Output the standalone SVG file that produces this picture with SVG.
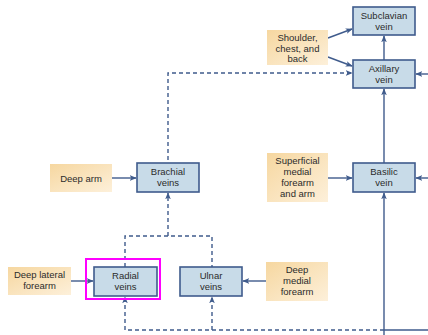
<svg xmlns="http://www.w3.org/2000/svg" width="428" height="335" viewBox="0 0 428 335">
<style>
.v{fill:#c8dbe8;stroke:#3f5b8c;stroke-width:1.6}
.s{fill:url(#og)}
text{font-family:"Liberation Sans",Arial,sans-serif;font-size:9.5px;fill:#2b2b2b;text-anchor:middle}
.c{fill:none;stroke:#3f5b8c;stroke-width:1.4}
.d{stroke-dasharray:4,3}
</style>
<defs>
<linearGradient id="og" x1="0" y1="0" x2="1" y2="1">
<stop offset="0" stop-color="#f6d7a0"/>
<stop offset="1" stop-color="#fdf0da"/>
</linearGradient>
<marker id="ah" viewBox="0 0 10 10" refX="9" refY="5" markerWidth="7" markerHeight="7" markerUnits="userSpaceOnUse" orient="auto">
<path d="M0,1 L10,5 L0,9 L2.5,5 Z" fill="#3f5b8c"/>
</marker>
</defs>
<g id="connectors">
<line class="c" x1="328" y1="38" x2="352" y2="29" marker-end="url(#ah)"/>
<line class="c" x1="328" y1="57" x2="352" y2="66" marker-end="url(#ah)"/>
<line class="c" x1="384" y1="60" x2="384" y2="36" marker-end="url(#ah)"/>
<line class="c" x1="428" y1="74" x2="416" y2="74" marker-end="url(#ah)"/>
<polyline class="c d" points="168,160 168,73 352,73" marker-end="url(#ah)"/>
<line class="c" x1="384" y1="163" x2="384" y2="89" marker-end="url(#ah)"/>
<line class="c" x1="112" y1="178" x2="136" y2="178" marker-end="url(#ah)"/>
<line class="c" x1="328" y1="178" x2="352" y2="178" marker-end="url(#ah)"/>
<line class="c" x1="428" y1="178" x2="416" y2="178" marker-end="url(#ah)"/>
<line class="c" x1="384" y1="335" x2="384" y2="193" marker-end="url(#ah)"/>
<polyline class="c d" points="125,267 125,236 212,236 212,267"/>
<line class="c d" x1="168" y1="236" x2="168" y2="193" marker-end="url(#ah)"/>
<line class="c" x1="71" y1="281" x2="93" y2="281" marker-end="url(#ah)"/>
<line class="c" x1="266" y1="281" x2="243" y2="281" marker-end="url(#ah)"/>
<polyline class="c d" points="384,330 125,330 125,297" marker-end="url(#ah)"/>
<line class="c d" x1="212" y1="330" x2="212" y2="297" marker-end="url(#ah)"/>
<line class="c" x1="384" y1="330" x2="428" y2="330"/>
</g>
<g id="subclavian"><rect class="v" x="353" y="7" width="62" height="28"/><text x="384" y="19">Subclavian</text><text x="384" y="30">vein</text></g>
<g id="shoulder"><rect class="s" x="267" y="30" width="61" height="35"/><text x="297.5" y="41">Shoulder,</text><text x="297.5" y="51.5">chest, and</text><text x="297.5" y="62">back</text></g>
<g id="axillary"><rect class="v" x="353" y="60" width="62" height="28"/><text x="384" y="72">Axillary</text><text x="384" y="83">vein</text></g>
<g id="deeparm"><rect class="s" x="50" y="164" width="62" height="28"/><text x="81" y="181.5">Deep arm</text></g>
<g id="brachial"><rect class="v" x="137" y="163" width="62" height="29"/><text x="168" y="175">Brachial</text><text x="168" y="186">veins</text></g>
<g id="superficial"><rect class="s" x="267" y="153" width="61" height="49"/><text x="297.5" y="164">Superficial</text><text x="297.5" y="175">medial</text><text x="297.5" y="186">forearm</text><text x="297.5" y="197">and arm</text></g>
<g id="basilic"><rect class="v" x="353" y="163" width="62" height="29"/><text x="384" y="175">Basilic</text><text x="384" y="186">vein</text></g>
<g id="deeplateral"><rect class="s" x="8" y="267" width="63" height="28"/><text x="39.5" y="278">Deep lateral</text><text x="39.5" y="289">forearm</text></g>
<g id="radial"><rect class="v" x="94" y="267" width="63" height="29"/><text x="125.5" y="279">Radial</text><text x="125.5" y="290">veins</text><rect x="86" y="259" width="74" height="40" fill="none" stroke="#ff00ff" stroke-width="2"/></g>
<g id="ulnar"><rect class="v" x="180" y="267" width="62" height="29"/><text x="211" y="279">Ulnar</text><text x="211" y="290">veins</text></g>
<g id="deepmedial"><rect class="s" x="266" y="262" width="62" height="39"/><text x="297" y="273">Deep</text><text x="297" y="284">medial</text><text x="297" y="295">forearm</text></g>
</svg>
